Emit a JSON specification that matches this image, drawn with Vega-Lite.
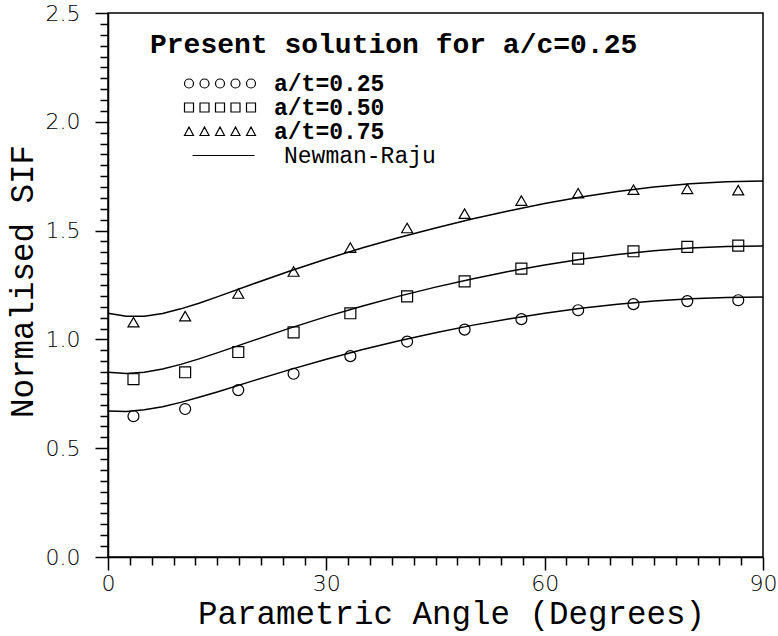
{
  "$schema": "https://vega.github.io/schema/vega-lite/v6.json",
  "width": 655,
  "height": 544,
  "autosize": {"type": "none"},
  "padding": {"left": 108, "top": 13, "right": 15, "bottom": 79},
  "background": "white",
  "config": {
    "view": {"stroke": "black", "strokeWidth": 1.5},
    "axis": {
      "grid": false,
      "domainColor": "black",
      "domainWidth": 1.5,
      "tickColor": "black",
      "tickWidth": 1.5,
      "labelColor": "black",
      "titleColor": "black",
      "labelFont": "DejaVu Sans",
      "labelFontWeight": 200,
      "labelFontSize": 22,
      "titleFont": "Liberation Mono",
      "titleFontWeight": "normal",
      "titleFontSize": 32.5
    }
  },
  "datasets": {
    "points": [
      {"theta": 3.5, "sif": 0.647, "series": "a/t=0.25"},
      {"theta": 10.6, "sif": 0.680, "series": "a/t=0.25"},
      {"theta": 17.9, "sif": 0.767, "series": "a/t=0.25"},
      {"theta": 25.5, "sif": 0.842, "series": "a/t=0.25"},
      {"theta": 33.3, "sif": 0.923, "series": "a/t=0.25"},
      {"theta": 41.1, "sif": 0.990, "series": "a/t=0.25"},
      {"theta": 49.0, "sif": 1.045, "series": "a/t=0.25"},
      {"theta": 56.8, "sif": 1.093, "series": "a/t=0.25"},
      {"theta": 64.6, "sif": 1.134, "series": "a/t=0.25"},
      {"theta": 72.2, "sif": 1.162, "series": "a/t=0.25"},
      {"theta": 79.6, "sif": 1.176, "series": "a/t=0.25"},
      {"theta": 86.6, "sif": 1.180, "series": "a/t=0.25"},
      {"theta": 3.5, "sif": 0.817, "series": "a/t=0.50"},
      {"theta": 10.6, "sif": 0.849, "series": "a/t=0.50"},
      {"theta": 17.9, "sif": 0.942, "series": "a/t=0.50"},
      {"theta": 25.5, "sif": 1.032, "series": "a/t=0.50"},
      {"theta": 33.3, "sif": 1.120, "series": "a/t=0.50"},
      {"theta": 41.1, "sif": 1.198, "series": "a/t=0.50"},
      {"theta": 49.0, "sif": 1.267, "series": "a/t=0.50"},
      {"theta": 56.8, "sif": 1.325, "series": "a/t=0.50"},
      {"theta": 64.6, "sif": 1.371, "series": "a/t=0.50"},
      {"theta": 72.2, "sif": 1.405, "series": "a/t=0.50"},
      {"theta": 79.6, "sif": 1.425, "series": "a/t=0.50"},
      {"theta": 86.6, "sif": 1.431, "series": "a/t=0.50"},
      {"theta": 3.5, "sif": 1.079, "series": "a/t=0.75"},
      {"theta": 10.6, "sif": 1.107, "series": "a/t=0.75"},
      {"theta": 17.9, "sif": 1.211, "series": "a/t=0.75"},
      {"theta": 25.5, "sif": 1.312, "series": "a/t=0.75"},
      {"theta": 33.3, "sif": 1.422, "series": "a/t=0.75"},
      {"theta": 41.1, "sif": 1.512, "series": "a/t=0.75"},
      {"theta": 49.0, "sif": 1.578, "series": "a/t=0.75"},
      {"theta": 56.8, "sif": 1.638, "series": "a/t=0.75"},
      {"theta": 64.6, "sif": 1.672, "series": "a/t=0.75"},
      {"theta": 72.2, "sif": 1.688, "series": "a/t=0.75"},
      {"theta": 79.6, "sif": 1.692, "series": "a/t=0.75"},
      {"theta": 86.6, "sif": 1.686, "series": "a/t=0.75"}
    ],
    "lines": [
      {"theta": 0, "sif": 0.6704, "at": "0.25"},
      {"theta": 2.5, "sif": 0.6689, "at": "0.25"},
      {"theta": 5, "sif": 0.6762, "at": "0.25"},
      {"theta": 7.5, "sif": 0.6908, "at": "0.25"},
      {"theta": 10, "sif": 0.7106, "at": "0.25"},
      {"theta": 12.5, "sif": 0.7337, "at": "0.25"},
      {"theta": 15, "sif": 0.7586, "at": "0.25"},
      {"theta": 20, "sif": 0.8104, "at": "0.25"},
      {"theta": 25, "sif": 0.8612, "at": "0.25"},
      {"theta": 30, "sif": 0.9090, "at": "0.25"},
      {"theta": 35, "sif": 0.9533, "at": "0.25"},
      {"theta": 40, "sif": 0.9940, "at": "0.25"},
      {"theta": 45, "sif": 1.0310, "at": "0.25"},
      {"theta": 50, "sif": 1.0644, "at": "0.25"},
      {"theta": 55, "sif": 1.0942, "at": "0.25"},
      {"theta": 60, "sif": 1.1204, "at": "0.25"},
      {"theta": 65, "sif": 1.1428, "at": "0.25"},
      {"theta": 70, "sif": 1.1614, "at": "0.25"},
      {"theta": 75, "sif": 1.1761, "at": "0.25"},
      {"theta": 80, "sif": 1.1866, "at": "0.25"},
      {"theta": 85, "sif": 1.1930, "at": "0.25"},
      {"theta": 90, "sif": 1.1951, "at": "0.25"},
      {"theta": 0, "sif": 0.8488, "at": "0.50"},
      {"theta": 2.5, "sif": 0.8433, "at": "0.50"},
      {"theta": 5, "sif": 0.8491, "at": "0.50"},
      {"theta": 7.5, "sif": 0.8639, "at": "0.50"},
      {"theta": 10, "sif": 0.8852, "at": "0.50"},
      {"theta": 12.5, "sif": 0.9105, "at": "0.50"},
      {"theta": 15, "sif": 0.9382, "at": "0.50"},
      {"theta": 20, "sif": 0.9957, "at": "0.50"},
      {"theta": 25, "sif": 1.0519, "at": "0.50"},
      {"theta": 30, "sif": 1.1048, "at": "0.50"},
      {"theta": 35, "sif": 1.1537, "at": "0.50"},
      {"theta": 40, "sif": 1.1988, "at": "0.50"},
      {"theta": 45, "sif": 1.2402, "at": "0.50"},
      {"theta": 50, "sif": 1.2778, "at": "0.50"},
      {"theta": 55, "sif": 1.3117, "at": "0.50"},
      {"theta": 60, "sif": 1.3418, "at": "0.50"},
      {"theta": 65, "sif": 1.3679, "at": "0.50"},
      {"theta": 70, "sif": 1.3897, "at": "0.50"},
      {"theta": 75, "sif": 1.4070, "at": "0.50"},
      {"theta": 80, "sif": 1.4195, "at": "0.50"},
      {"theta": 85, "sif": 1.4271, "at": "0.50"},
      {"theta": 90, "sif": 1.4296, "at": "0.50"},
      {"theta": 0, "sif": 1.1201, "at": "0.75"},
      {"theta": 2.5, "sif": 1.1060, "at": "0.75"},
      {"theta": 5, "sif": 1.1068, "at": "0.75"},
      {"theta": 7.5, "sif": 1.1194, "at": "0.75"},
      {"theta": 10, "sif": 1.1404, "at": "0.75"},
      {"theta": 12.5, "sif": 1.1664, "at": "0.75"},
      {"theta": 15, "sif": 1.1953, "at": "0.75"},
      {"theta": 20, "sif": 1.2557, "at": "0.75"},
      {"theta": 25, "sif": 1.3145, "at": "0.75"},
      {"theta": 30, "sif": 1.3697, "at": "0.75"},
      {"theta": 35, "sif": 1.4208, "at": "0.75"},
      {"theta": 40, "sif": 1.4682, "at": "0.75"},
      {"theta": 45, "sif": 1.5123, "at": "0.75"},
      {"theta": 50, "sif": 1.5531, "at": "0.75"},
      {"theta": 55, "sif": 1.5905, "at": "0.75"},
      {"theta": 60, "sif": 1.6244, "at": "0.75"},
      {"theta": 65, "sif": 1.6543, "at": "0.75"},
      {"theta": 70, "sif": 1.6797, "at": "0.75"},
      {"theta": 75, "sif": 1.7002, "at": "0.75"},
      {"theta": 80, "sif": 1.7152, "at": "0.75"},
      {"theta": 85, "sif": 1.7243, "at": "0.75"},
      {"theta": 90, "sif": 1.7274, "at": "0.75"}
    ]
  },
  "encoding": {
    "x": {
      "field": "theta",
      "type": "quantitative",
      "scale": {"domain": [0, 90], "nice": false, "zero": false},
      "axis": {
        "title": "Parametric Angle (Degrees)",
        "values": [0, 3, 6, 9, 12, 15, 18, 21, 24, 27, 30, 33, 36, 39, 42, 45, 48, 51, 54, 57, 60, 63, 66, 69, 72, 75, 78, 81, 84, 87, 90],
        "labelExpr": "datum.value % 30 === 0 ? datum.label : ''",
        "tickSize": {"condition": {"test": "datum.value % 30 === 0", "value": 13}, "value": 8},
        "labelPadding": 3,
        "labelOverlap": false,
        "labelFlush": false,
        "titleX": 343,
        "titleY": 66,
        "titleAlign": "center",
        "titleBaseline": "alphabetic"
      }
    },
    "y": {
      "field": "sif",
      "type": "quantitative",
      "scale": {"domain": [0, 2.5], "nice": false, "zero": false},
      "axis": {
        "title": "Normalised SIF",
        "values": [0, 0.05, 0.1, 0.15, 0.2, 0.25, 0.3, 0.35, 0.4, 0.45, 0.5, 0.55, 0.6, 0.65, 0.7, 0.75, 0.8, 0.85, 0.9, 0.95, 1, 1.05, 1.1, 1.15, 1.2, 1.25, 1.3, 1.35, 1.4, 1.45, 1.5, 1.55, 1.6, 1.65, 1.7, 1.75, 1.8, 1.85, 1.9, 1.95, 2, 2.05, 2.1, 2.15, 2.2, 2.25, 2.3, 2.35, 2.4, 2.45, 2.5],
        "labelExpr": "abs(datum.value * 2 - round(datum.value * 2)) < 0.001 ? format(datum.value, '.1f') : ''",
        "tickSize": {"condition": {"test": "abs(datum.value * 2 - round(datum.value * 2)) < 0.001", "value": 13}, "value": 8},
        "labelPadding": 15,
        "labelOverlap": false,
        "labelFlush": false,
        "titleX": -76,
        "titleY": 268,
        "titleAngle": 270,
        "titleAlign": "center",
        "titleBaseline": "alphabetic"
      }
    }
  },
  "resolve": {"scale": {"shape": "independent"}, "legend": {"shape": "independent"}},
  "layer": [
    {
      "data": {"name": "lines"},
      "mark": {"type": "line", "color": "black", "strokeWidth": 1.5},
      "encoding": {"detail": {"field": "at", "type": "nominal"}}
    },
    {
      "data": {"name": "points"},
      "mark": {"type": "point", "filled": false, "color": "black", "strokeWidth": 1.2, "opacity": 1, "size": 120},
      "encoding": {
        "shape": {
          "field": "series",
          "type": "nominal",
          "scale": {
            "domain": ["a/t=0.25", "a/t=0.50", "a/t=0.75"],
            "range": ["circle", "square", "triangle-up"]
          },
          "legend": null
        }
      }
    },
    {
      "data": {"name": "points"},
      "transform": [{"filter": "false"}],
      "mark": {"type": "point", "filled": false, "color": "black", "strokeWidth": 1.2, "opacity": 1, "size": 4},
      "encoding": {
        "shape": {
          "field": "series",
          "type": "nominal",
          "scale": {
            "domain": ["a/t=0.25", "a/t=0.50", "a/t=0.75", "Newman-Raju"],
            "range": [
              "M32,0A4.5,4.5 0 1,0 23,0A4.5,4.5 0 1,0 32,0M47.5,0A4.5,4.5 0 1,0 38.5,0A4.5,4.5 0 1,0 47.5,0M63,0A4.5,4.5 0 1,0 54,0A4.5,4.5 0 1,0 63,0M78.5,0A4.5,4.5 0 1,0 69.5,0A4.5,4.5 0 1,0 78.5,0M94,0A4.5,4.5 0 1,0 85,0A4.5,4.5 0 1,0 94,0",
              "M23,-4.5h9v9h-9zM38.5,-4.5h9v9h-9zM54,-4.5h9v9h-9zM69.5,-4.5h9v9h-9zM85,-4.5h9v9h-9z",
              "M27.5,-4.5L32,4L23,4zM43,-4.5L47.5,4L38.5,4zM58.5,-4.5L63,4L54,4zM74,-4.5L78.5,4L69.5,4zM89.5,-4.5L94,4L85,4z",
              "M23,0M31,0H93M94,0"
            ]
          },
          "legend": {
            "orient": "none",
            "legendX": 42,
            "legendY": 18,
            "title": "Present solution for a/c=0.25",
            "titleFont": "Liberation Mono",
            "titleFontSize": 28,
            "titleFontWeight": "bold",
            "titleColor": "black",
            "titlePadding": 13,
            "titleLimit": 0,
            "labelFont": "Liberation Mono",
            "labelFontSize": 23,
            "labelFontWeight": {"expr": "datum.value === 'Newman-Raju' ? 'normal' : 'bold'"},
            "labelColor": "black",
            "labelLimit": 0,
            "labelOffset": {"expr": "datum.value === 'Newman-Raju' ? 111 : 101"},
            "symbolSize": 4,
            "symbolStrokeWidth": 1.2,
            "symbolStrokeColor": "black",
            "symbolFillColor": "transparent",
            "rowPadding": -1,
            "padding": 0
          }
        }
      }
    }
  ]
}
